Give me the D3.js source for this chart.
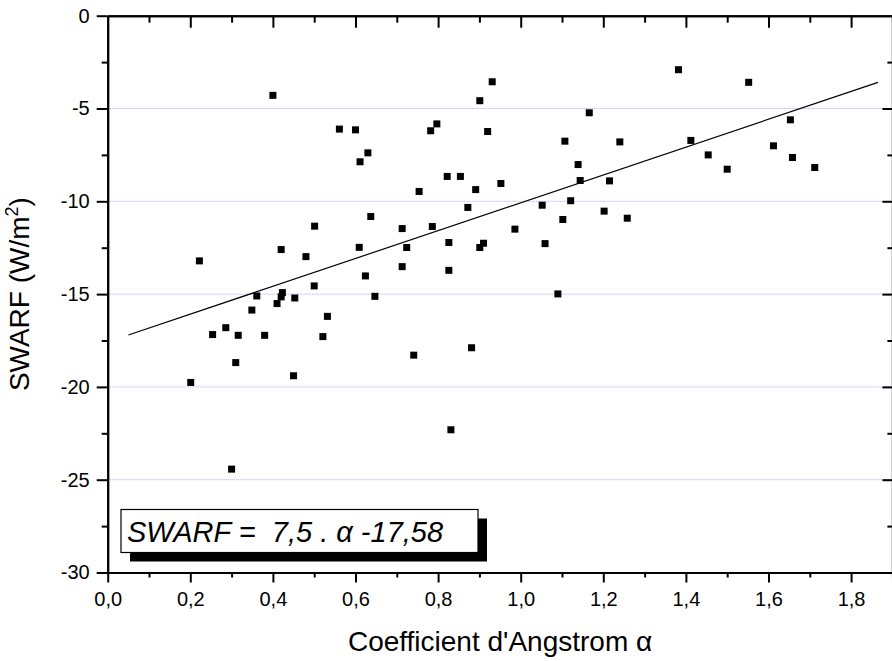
<!DOCTYPE html>
<html>
<head>
<meta charset="utf-8">
<script src="https://cdn.jsdelivr.net/npm/d3@7"></script>
<style>
  html, body { margin: 0; padding: 0; background: #ffffff; }
  svg { display: block; font-family: "Liberation Sans", Arial, sans-serif; }
</style>
</head>
<body>
<svg id="chart" width="892" height="661"></svg>
<script>
// ---- data ----
const alphaValues = [0.201,0.222,0.254,0.286,0.316,0.310,0.349,0.361,0.380,0.410,0.420,0.423,0.420,0.453,0.450,0.480,0.501,0.500,0.521,0.532,0.609,0.624,0.637,0.647,0.400,0.561,0.600,0.611,0.630,0.300,0.831,0.754,0.782,0.797,0.822,0.854,0.891,0.901,0.931,0.920,0.952,1.107,1.139,1.144,1.166,1.215,1.240,1.121,1.382,1.552,1.653,1.412,1.454,1.500,1.612,1.658,1.712,0.713,0.724,0.786,0.826,0.872,0.901,0.910,0.986,1.052,1.059,1.102,1.202,1.258,0.713,0.826,1.090,0.741,0.881];
const swarfValues = [-19.76,-13.21,-17.18,-16.81,-17.22,-18.69,-15.86,-15.10,-17.22,-15.51,-15.15,-14.92,-12.60,-15.21,-19.40,-12.98,-11.34,-14.56,-17.29,-16.20,-12.48,-14.02,-10.82,-15.12,-4.29,-6.11,-6.15,-7.87,-7.39,-24.43,-22.31,-9.47,-6.20,-5.83,-8.66,-8.66,-9.37,-4.58,-3.56,-6.24,-9.04,-6.76,-8.02,-8.88,-5.23,-8.90,-6.80,-9.97,-2.91,-3.59,-5.61,-6.72,-7.50,-8.27,-7.01,-7.64,-8.18,-11.47,-12.49,-11.36,-12.22,-10.33,-12.49,-12.26,-11.50,-10.21,-12.28,-10.98,-10.53,-10.91,-13.52,-13.72,-14.99,-18.29,-17.89];
const fitSlope = 7.5;
const fitIntercept = -17.58;
const fitRange = [0.05, 1.865];
const xMajorTicks = [0.0,0.2,0.4,0.6,0.8,1.0,1.2,1.4,1.6,1.8];
const xMinorTicks = [0.1,0.3,0.5,0.7,0.9,1.1,1.3,1.5,1.7,1.9];
const yMajorTicks = [0,-5,-10,-15,-20,-25,-30];
const yMinorTicks = [-2.5,-7.5,-12.5,-17.5,-22.5,-27.5];
const yGridTicks = [-5,-10,-15,-20,-25];
const xTitle = "Coefficient d'Angstrom ";
const yTitle = "SWARF (W/m";
const equationText = "SWARF =  7,5 . \u03B1 -17,58";

// ---- layout ----
const svg = d3.select("#chart");
const L = 107.7, R = 892.4, T = 15.7, B = 572.5;
const x = d3.scaleLinear().domain([0, 1.9]).range([L, R]);
const y = d3.scaleLinear().domain([-30, 0]).range([B, T]);
const fmtX = d => d.toFixed(1).replace(".", ",");
const fmtY = d => String(d);

// grid
svg.append("g").selectAll("line").data(yGridTicks).join("line")
  .attr("x1", L).attr("x2", R).attr("y1", d => y(d)).attr("y2", d => y(d))
  .attr("stroke", "#a8a8f0").attr("stroke-width", 1).attr("stroke-dasharray", "1,1");

function styleAxis(g) {
  g.selectAll("path.domain").attr("stroke", "#000").attr("stroke-width", 2);
  g.selectAll(".tick line").attr("stroke", "#000").attr("stroke-width", 2);
  g.selectAll(".tick text").attr("fill", "#000").attr("font-size", 20)
    .attr("font-family", "'Liberation Sans', Arial, sans-serif");
}

// bottom axis
svg.append("g").attr("transform", `translate(0,${B})`)
  .call(d3.axisBottom(x).tickValues(xMinorTicks).tickSize(5).tickSizeOuter(0).tickFormat(""))
  .call(styleAxis);
svg.append("g").attr("transform", `translate(0,${B})`)
  .call(d3.axisBottom(x).tickValues(xMajorTicks).tickSize(10).tickSizeOuter(0).tickPadding(9).tickFormat(fmtX))
  .call(styleAxis);
// top axis (inward ticks)
svg.append("g").attr("transform", `translate(0,${T})`)
  .call(d3.axisTop(x).tickValues(xMinorTicks).tickSize(-7).tickSizeOuter(0).tickFormat(""))
  .call(styleAxis);
svg.append("g").attr("transform", `translate(0,${T})`)
  .call(d3.axisTop(x).tickValues(xMajorTicks.filter(d => d > 0)).tickSize(-12).tickSizeOuter(0).tickFormat(""))
  .call(styleAxis);
// left axis
svg.append("g").attr("transform", `translate(${L},0)`)
  .call(d3.axisLeft(y).tickValues(yMinorTicks).tickSize(6).tickSizeOuter(0).tickFormat(""))
  .call(styleAxis);
svg.append("g").attr("transform", `translate(${L},0)`)
  .call(d3.axisLeft(y).tickValues(yMajorTicks).tickSize(11).tickSizeOuter(0).tickPadding(7).tickFormat(fmtY))
  .call(styleAxis);
// right axis (inward ticks)
svg.append("g").attr("transform", `translate(${R},0)`)
  .call(d3.axisRight(y).tickValues(yMinorTicks).tickSize(-5).tickSizeOuter(0).tickFormat(""))
  .call(styleAxis);
svg.append("g").attr("transform", `translate(${R},0)`)
  .call(d3.axisRight(y).tickValues(yMajorTicks.filter(d => d > -30 && d < 0)).tickSize(-10).tickSizeOuter(0).tickFormat(""))
  .call(styleAxis);

// fit line
svg.append("line")
  .attr("x1", x(fitRange[0])).attr("y1", y(fitSlope * fitRange[0] + fitIntercept))
  .attr("x2", x(fitRange[1])).attr("y2", y(fitSlope * fitRange[1] + fitIntercept))
  .attr("stroke", "#000").attr("stroke-width", 1.2);

// points
const pts = alphaValues.map((a, i) => ({a, s: swarfValues[i]}));
const ms = 7;
svg.append("g").selectAll("rect").data(pts).join("rect")
  .attr("x", d => x(d.a) - ms / 2).attr("y", d => y(d.s) - ms / 2)
  .attr("width", ms).attr("height", ms).attr("fill", "#000");

// equation box with shadow
const bx = 121, by = 509.5, bw = 357, bh = 43;
svg.append("rect").attr("x", bx + 9).attr("y", by + 9).attr("width", bw).attr("height", bh).attr("fill", "#000");
svg.append("rect").attr("x", bx).attr("y", by).attr("width", bw).attr("height", bh)
  .attr("fill", "#fff").attr("stroke", "#000").attr("stroke-width", 1.2);
svg.append("text").attr("x", 127).attr("y", 542)
  .attr("font-size", 29).attr("font-style", "italic").attr("fill", "#000")
  .attr("xml:space", "preserve").style("white-space", "pre")
  .text(equationText);

// axis titles
const xt = svg.append("text").attr("x", (L + R) / 2).attr("y", 651)
  .attr("text-anchor", "middle").attr("font-size", 28).attr("fill", "#000");
xt.append("tspan").text(xTitle);
xt.append("tspan").text("\u03B1");

const yt = svg.append("text")
  .attr("transform", `translate(29,${(T + B) / 2}) rotate(-90)`)
  .attr("text-anchor", "middle").attr("font-size", 28).attr("fill", "#000");
yt.append("tspan").text(yTitle);
yt.append("tspan").attr("font-size", 18).attr("dy", -11).text("2");
yt.append("tspan").attr("dy", 11).text(")");
</script>
</body>
</html>
